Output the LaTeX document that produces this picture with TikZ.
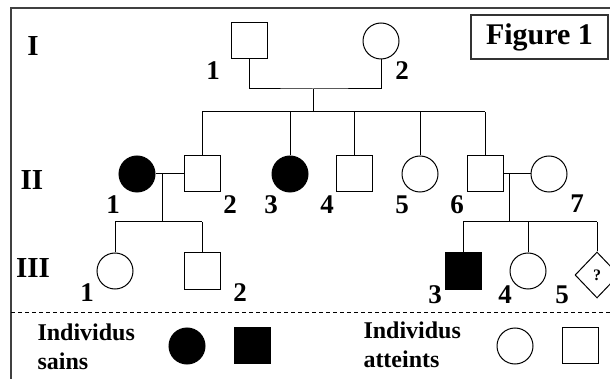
\documentclass[tikz,border=0pt]{standalone}
\usepackage{fontspec}
\setmainfont{Liberation Serif}
\usetikzlibrary{shapes.geometric}

\begin{document}
\begin{tikzpicture}[x=1pt,y=-1pt,line width=1pt,
    homme/.style={draw,rectangle,minimum size=36pt,inner sep=0pt},
    femme/.style={draw,circle,minimum size=36pt,inner sep=0pt},
    malade/.style={fill=black},
    num/.style={font=\fontsize{27}{27}\selectfont\bfseries,inner sep=0pt},
    gen/.style={font=\fontsize{29}{29}\selectfont\bfseries,inner sep=0pt},
    leg/.style={font=\fontsize{24}{29}\selectfont\bfseries,align=left,inner sep=0pt,anchor=west}]
    \useasboundingbox (0,0) rectangle (610,379);

    %Cadre
    \draw[line width=2pt,black!75] (11,379) -- (11,8) -- (610,8);
    \node[draw,line width=1.5pt,black!80,text=black,minimum width=137pt,minimum height=44pt,
      font=\fontsize{30}{30}\selectfont\bfseries] (titre) at (539.5,37) {Figure 1};

    %Generation I
    \node[gen] (gI) at (33,46) {I};
    \node[homme] (I1) at (249,41) {};
    \node[femme] (I2) at (381,41) {};
    \node[num] (nI1) at (213,71) {1};
    \node[num] (nI2) at (402,71) {2};
    \coordinate (m1) at (313,89);
    \coordinate (f1) at (313,112);
    \draw (I1.south) |- (m1) -| (I2.south);
    \draw (m1) -- (f1);

    %Generation II
    \node[gen] (gII) at (32,180) {II};
    \node[femme,malade] (II1) at (137,174) {};
    \node[homme] (II2) at (202,174) {};
    \node[femme,malade] (II3) at (290,174) {};
    \node[homme] (II4) at (354,174) {};
    \node[femme] (II5) at (420,174) {};
    \node[homme] (II6) at (485,174) {};
    \node[femme] (II7) at (549,174) {};
    \node[num] (nII1) at (113,205) {1};
    \node[num] (nII2) at (230,205) {2};
    \node[num] (nII3) at (271,205) {3};
    \node[num] (nII4) at (327,205) {4};
    \node[num] (nII5) at (402,205) {5};
    \node[num] (nII6) at (457,205) {6};
    \node[num] (nII7) at (577,204) {7};
    \draw (II2.north |- f1) -- (II6.north |- f1);
    \foreach \n in {II2,II3,II4,II5,II6}
      \draw (\n.north) -- (\n.north |- f1);
    \draw (II1) -- (II2);
    \draw (II6) -- (II7);
    \coordinate (m2) at (162,174);
    \coordinate (f2) at (162,222);
    \coordinate (m3) at (509,174);
    \coordinate (f3) at (509,222);
    \draw (m2) -- (f2);
    \draw (m3) -- (f3);

    %Generation III
    \node[gen] (gIII) at (33,268) {III};
    \node[femme] (III1) at (115,271) {};
    \node[homme] (III2) at (202,271) {};
    \node[homme,malade] (III3) at (463,271) {};
    \node[femme] (III4) at (528,271) {};
    \node[draw,diamond,minimum width=44pt,minimum height=46pt,inner sep=0pt,
      font=\fontsize{16}{16}\selectfont\bfseries] (III5) at (597,275) {?};
    \node[num] (nIII1) at (87,293) {1};
    \node[num] (nIII2) at (240,293) {2};
    \node[num] (nIII3) at (435,295) {3};
    \node[num] (nIII4) at (505,295) {4};
    \node[num] (nIII5) at (562,295) {5};
    \draw (III1.north |- f2) -- (III2.north |- f2);
    \foreach \n in {III1,III2}
      \draw (\n.north) -- (\n.north |- f2);
    \draw (III3.north |- f3) -- (III5.north |- f3);
    \foreach \n in {III3,III4,III5}
      \draw (\n.north) -- (\n.north |- f3);

    %Legende
    \draw[dash pattern=on 4pt off 3pt] (11,312) -- (610,312);
    \node[leg] (sains) at (37,347) {Individus\\sains};
    \node[femme,malade] (lf1) at (187,346) {};
    \node[homme,malade] (lh1) at (252,345) {};
    \node[leg] (atteints) at (363,345) {Individus\\atteints};
    \node[femme] (lf2) at (515,346) {};
    \node[homme] (lh2) at (580,345) {};
\end{tikzpicture}
\end{document}
